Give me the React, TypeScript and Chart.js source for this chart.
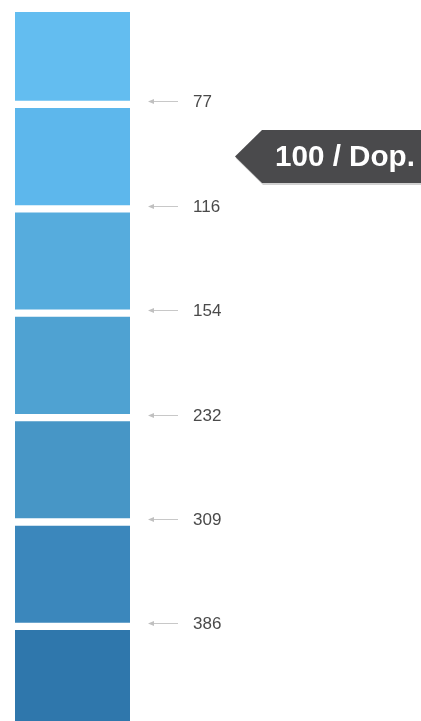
import React, { useEffect, useRef } from "react";
import { Chart, registerables } from "chart.js";

Chart.register(...registerables);

// Seven colour swatches, top to bottom (the last one runs off the page)
const swatchNames = ["S1", "S2", "S3", "S4", "S5", "S6", "S7"];
const swatchColors = ["#63bdf0", "#5db7ec", "#56acdd", "#4fa2d2", "#4796c6", "#3b87bc", "#2f77ac"];
// every swatch occupies one step on the index scale
const swatchSteps = [1, 1, 1, 1, 1, 1, 1];
// level values written at the boundaries between swatches
const boundaryLevels = [77, 116, 154, 232, 309, 386];
// highlighted swatch with its badge
const markerLabel = "100 / Dop.";
const markerSwatch = 1;

const levelPlugin = {
  id: "levelMarks",
  afterDatasetsDraw(chart: any) {
    const ctx = chart.ctx as CanvasRenderingContext2D;
    const y = chart.scales.y;
    const area = chart.chartArea;
    ctx.save();
    boundaryLevels.forEach((lv, i) => {
      const py = Math.round(y.getPixelForValue(i + 1)) - 3 + 0.5;
      const x0 = area.right + 18;
      const x1 = area.right + 48;
      ctx.strokeStyle = "#c8c8c8";
      ctx.lineWidth = 1;
      ctx.beginPath();
      ctx.moveTo(x0 + 4, py);
      ctx.lineTo(x1, py);
      ctx.stroke();
      ctx.fillStyle = "#c0c0c0";
      ctx.beginPath();
      ctx.moveTo(x0, py);
      ctx.lineTo(x0 + 6, py - 2.5);
      ctx.lineTo(x0 + 6, py + 2.5);
      ctx.closePath();
      ctx.fill();
      ctx.fillStyle = "#4a4a4a";
      ctx.font = "17px 'Liberation Sans', Arial, sans-serif";
      ctx.textBaseline = "middle";
      ctx.textAlign = "left";
      ctx.fillText(String(lv), area.right + 63, py + 1);
    });

    // badge pointing at the highlighted swatch
    const cy = y.getPixelForValue(markerSwatch + 0.5);
    const half = 26.5;
    const tipX = area.right + 105;
    const bodyX = tipX + 27;
    const rightX = chart.width;
    ctx.fillStyle = "rgba(0,0,0,0.18)";
    ctx.beginPath();
    ctx.moveTo(tipX + 1, cy + 2);
    ctx.lineTo(bodyX + 1, cy - half + 2);
    ctx.lineTo(rightX, cy - half + 2);
    ctx.lineTo(rightX, cy + half + 2);
    ctx.lineTo(bodyX + 1, cy + half + 2);
    ctx.closePath();
    ctx.fill();
    ctx.fillStyle = "#4a4a4c";
    ctx.beginPath();
    ctx.moveTo(tipX, cy);
    ctx.lineTo(bodyX, cy - half);
    ctx.lineTo(rightX, cy - half);
    ctx.lineTo(rightX, cy + half);
    ctx.lineTo(bodyX, cy + half);
    ctx.closePath();
    ctx.fill();

    let size = 25;
    ctx.font = `bold ${size}px 'Liberation Sans', Arial, sans-serif`;
    const w = ctx.measureText(markerLabel).width;
    size = Math.max(22, Math.min(30, (size * 140) / w));
    ctx.font = `bold ${size}px 'Liberation Sans', Arial, sans-serif`;
    ctx.fillStyle = "#ffffff";
    ctx.textAlign = "left";
    ctx.textBaseline = "middle";
    ctx.fillText(markerLabel, bodyX + 13, cy + 1);
    ctx.restore();
  },
};

export default function App() {
  const ref = useRef<HTMLCanvasElement | null>(null);

  useEffect(() => {
    if (!ref.current) return;
    const chart = new Chart(ref.current, {
      type: "bar",
      data: {
        labels: ["swatches"],
        datasets: swatchNames.map((name, i) => ({
          label: name,
          data: [swatchSteps[i]],
          backgroundColor: swatchColors[i],
          borderColor: "#ffffff",
          borderWidth: { top: 4, bottom: 4, left: 0, right: 0 },
          borderSkipped: false,
          barPercentage: 1,
          categoryPercentage: 1,
          clip: 0,
        })),
      },
      options: {
        responsive: false,
        animation: false,
        layout: { padding: { top: 12, bottom: 0, left: 15, right: 291 } },
        plugins: { legend: { display: false }, tooltip: { enabled: false } },
        scales: {
          x: { display: false, stacked: true },
          y: { display: false, stacked: true, reverse: true, min: 0.115, max: 6.906 },
        },
      },
      plugins: [levelPlugin],
    });
    return () => chart.destroy();
  }, []);

  return (
    <div style={{ position: "fixed", left: 0, top: 0, width: 421, height: 721, background: "#ffffff" }}>
      <canvas ref={ref} width={421} height={721} style={{ display: "block" }} />
    </div>
  );
}
